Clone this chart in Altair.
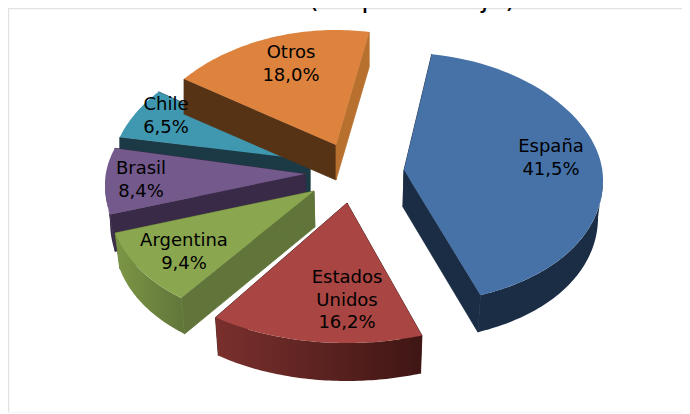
import math
import altair as alt

# --- data ---
categories = ["España", "Estados Unidos", "Argentina", "Brasil", "Chile", "Otros"]
shares = [41.5, 16.2, 9.4, 8.4, 6.5, 18.0]
label_lines = [["España", "41,5%"], ["Estados", "Unidos", "16,2%"], ["Argentina", "9,4%"],
               ["Brasil", "8,4%"], ["Chile", "6,5%"], ["Otros", "18,0%"]]
title_text = "(en porcentaje)"

# --- layout of the 3D exploded pie (page pixels) ---
PAGE = 8
W, H = 674, 405
START = 8.0
apex_x = [404, 347, 314, 305, 310, 336]
apex_y = [170, 203, 191, 174, 160, 145]
radius_x = [199, 215, 205, 200, 198, 195]
radius_back = [117, 112, 112, 112, 115, 115]
radius_front = [134, 140, 135, 138, 138, 138]
turn_start = [0.0, 2.2, 4.7, 7.5, 6.3, 5.6]
turn_end = [0.0, 2.0, 6.5, 8.3, 6.9, 1.8]
depth = [37, 38, 36, 37, 35, 35]
narrow = [0.02, 0.02, 0.02, 0.02, 0.0, 0.0]
MID_X = 355
SAG = 10
label_x = [551, 347, 184, 141, 166, 291]
label_y = [147, 278, 241, 169, 105, 53]
LINE = 22.5

top_col = ["#4672a8", "#a94542", "#8aa64e", "#745a8c", "#4098b0", "#dd833d"]
band_col = [["#1a2d45", "#1a2d45"], ["#7a302d", "#3f1614"], ["#7c9645", "#61753a"],
            ["#392a48", "#392a48"], ["#1b3a45", "#1b3a45"], ["#b8702f", "#b8702f"]]
edge_start_col = ["#1a2d45", "#3f1614", "#61753a", "#392a48", "#1b3a45", "#573316"]
edge_end_col = ["#1a2d45", "#3f1614", "#61753a", "#392a48", "#1b3a45", "#b8702f"]
draw_order = [4, 5, 3, 2, 1, 0]


def arc_point(i, deg):
    t = math.radians(deg)
    c, s = math.cos(t), math.sin(t)
    b = radius_back[i] if c > 0 else radius_front[i]
    return (apex_x[i] + radius_x[i] * s - PAGE,
            apex_y[i] - b * c + SAG * s * s - PAGE)


def polygon(points):
    ring = [list(p) for p in points] + [list(points[0])]
    return {"type": "Feature", "properties": {},
            "geometry": {"type": "Polygon", "coordinates": [ring]}}


def shape(points, fill, seal=0.0):
    if seal:
        return alt.Chart(alt.Data(values=[polygon(points)])).mark_geoshape(
            fill=fill, stroke=fill, strokeWidth=seal)
    return alt.Chart(alt.Data(values=[polygon(points)])).mark_geoshape(
        fill=fill, strokeWidth=0, stroke="transparent")


def horizontal(colors):
    if colors[0] == colors[1]:
        return colors[0]
    return alt.LinearGradient(
        gradient="linear", x1=0, x2=1, y1=0, y2=0,
        stops=[alt.GradientStop(color=colors[0], offset=0),
               alt.GradientStop(color=colors[1], offset=1)])


layers = []
bounds = []
acc = START
for v in shares:
    bounds.append((acc, acc + v * 3.6))
    acc += v * 3.6

for i in draw_order:
    a0 = bounds[i][0] + turn_start[i]
    a1 = bounds[i][1] + turn_end[i]
    n = 60
    arc = [arc_point(i, a0 + (a1 - a0) * k / n) for k in range(n + 1)]
    d = depth[i]
    apex = (apex_x[i] - PAGE, apex_y[i] - PAGE)

    def low(p, i=i, d=d):
        return (p[0] - narrow[i] * (p[0] + PAGE - MID_X), p[1] + d)

    layers.append(shape([apex, arc[0], low(arc[0]), low(apex)], edge_start_col[i], 0.8))
    layers.append(shape([apex, arc[-1], low(arc[-1]), low(apex)], edge_end_col[i], 0.8))
    b0, b1 = max(a0, 90.0), min(a1, 270.0)
    if b1 > b0:
        front = [arc_point(i, b0 + (b1 - b0) * k / n) for k in range(n + 1)]
        layers.append(shape(front + [low(p) for p in reversed(front)], horizontal(band_col[i])))
    layers.append(shape([apex] + arc, top_col[i]))

pie = alt.layer(*layers).project(type="identity", scale=1, translate=[0, 0])

rows = []
for i, lines in enumerate(label_lines):
    for k, line in enumerate(lines):
        rows.append({"t": line, "x": label_x[i] - PAGE, "y": label_y[i] + k * LINE - PAGE})

x_scale = alt.Scale(domain=[0, W], range=[0, W])
y_scale = alt.Scale(domain=[0, H], range=[0, H])
labels = alt.Chart(alt.Data(values=rows)).mark_text(
    font="DejaVu Sans", fontSize=18, color="#000000", baseline="middle", align="center"
).encode(x=alt.X("x:Q", scale=x_scale, axis=None),
         y=alt.Y("y:Q", scale=y_scale, axis=None),
         text="t:N")

title = alt.Chart(alt.Data(values=[{"t": title_text}])).mark_text(
    font="DejaVu Sans", fontSize=27, color="#000000", baseline="alphabetic", align="center"
).encode(x=alt.value(412 - PAGE), y=alt.value(-1), text="t:N")

frame_top = alt.Chart(alt.Data(values=[{"a": 0}])).mark_rule(color="#e2e2e2", strokeWidth=1.5).encode(
    x=alt.value(0), x2=alt.value(W), y=alt.value(0.5))
frame_left = alt.Chart(alt.Data(values=[{"a": 0}])).mark_rule(color="#e2e2e2", strokeWidth=1.5).encode(
    x=alt.value(0.5), y=alt.value(0), y2=alt.value(404))
frame_bottom = alt.Chart(alt.Data(values=[{"a": 0}])).mark_rule(color="#f3f3f3", strokeWidth=1).encode(
    x=alt.value(0), x2=alt.value(W), y=alt.value(404))

chart = alt.layer(frame_top, frame_left, frame_bottom, pie, labels, title).properties(
    width=W, height=H, padding=0, autosize=alt.AutoSizeParams(type="none")
).configure_view(stroke=None)

chart.save("out.html", embed_options={"renderer": "svg", "actions": False})
